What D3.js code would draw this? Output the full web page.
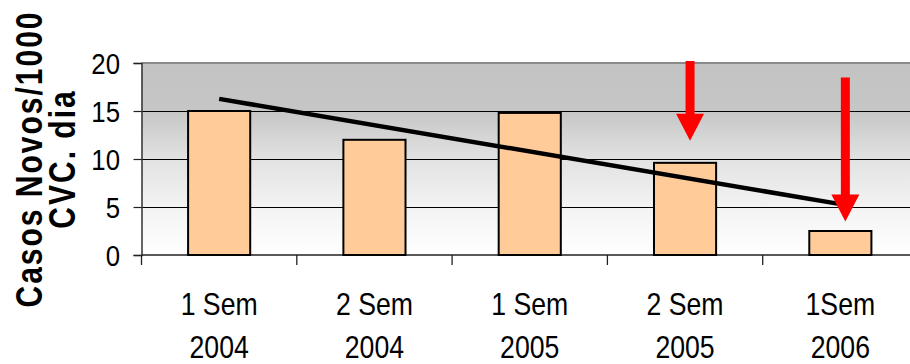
<!DOCTYPE html>
<html>
<head>
<meta charset="utf-8">
<script src="https://cdnjs.cloudflare.com/ajax/libs/d3/7.8.5/d3.min.js"></script>
<style>
  html, body { margin: 0; padding: 0; background: #ffffff; }
  svg { display: block; }
  text { font-family: Arial, "Liberation Sans", sans-serif; fill: #000; }
</style>
</head>
<body>
<svg id="chart" width="910" height="364"></svg>
<script>
// Semester labels (two lines each) and new cases per 1000 CVC-days
const periods = ["1 Sem|2004", "2 Sem|2004", "1 Sem|2005", "2 Sem|2005", "1Sem|2006"];
const cases = [15, 12, 14.8, 9.6, 2.5];
const yTicks = [0, 5, 10, 15, 20];
const yTitle = ["Casos Novos/1000", "CVC. dia"];
// Highlight arrows: category index, start value, tip value
const arrowCats = [3, 4];
const arrowFrom = [20.2, 18.5];
const arrowTo = [11.9, 3.5];

const svg = d3.select("#chart");
const margin = { left: 141.5, top: 63, right: 918, bottom: 255 };

const x = d3.scaleBand().domain(periods).range([margin.left, margin.right]).paddingInner(0).paddingOuter(0);
const y = d3.scaleLinear().domain([0, 20]).range([margin.bottom, margin.top]);

// Plot background gradient (grey at top fading to white)
const defs = svg.append("defs");
const grad = defs.append("linearGradient").attr("id", "bg")
  .attr("x1", 0).attr("y1", 0).attr("x2", 0).attr("y2", 1);
[[0, "#c3c3c3"], [0.25, "#c6c6c6"], [0.5, "#e2e2e2"], [0.75, "#f3f3f3"], [1, "#ffffff"]]
  .forEach(([o, c]) => grad.append("stop").attr("offset", o).attr("stop-color", c));

svg.append("rect")
  .attr("x", margin.left).attr("y", y(20))
  .attr("width", margin.right - margin.left).attr("height", y(0) - y(20))
  .attr("fill", "url(#bg)");

// Horizontal gridlines
svg.append("g").selectAll("line")
  .data(yTicks.filter(d => d > 0 && d < 20))
  .join("line")
  .attr("x1", margin.left).attr("x2", margin.right)
  .attr("y1", d => Math.round(y(d)) + 0.5).attr("y2", d => Math.round(y(d)) + 0.5)
  .attr("stroke", "#000").attr("stroke-width", 1.2);

// Top border
svg.append("line")
  .attr("x1", margin.left).attr("x2", margin.right)
  .attr("y1", y(20)).attr("y2", y(20))
  .attr("stroke", "#8a8a8a").attr("stroke-width", 2);

// Y axis
const yAxis = d3.axisLeft(y).tickValues(yTicks).tickSize(8).tickFormat("");
const ya = svg.append("g").attr("transform", `translate(${margin.left},0)`).call(yAxis);
ya.select(".domain").attr("stroke", "#333").attr("stroke-width", 1.5);
ya.selectAll(".tick line").attr("stroke", "#222").attr("stroke-width", 1.2);

// Y tick labels
svg.append("g").selectAll("text")
  .data(yTicks)
  .join("text")
  .attr("transform", d => `translate(120,${y(d) + 11}) scale(0.86,1)`)
  .attr("text-anchor", "end")
  .attr("font-size", 30)
  .text(d => d);

// X axis baseline and category separators
svg.append("line")
  .attr("x1", margin.left).attr("x2", margin.right)
  .attr("y1", y(0)).attr("y2", y(0))
  .attr("stroke", "#222").attr("stroke-width", 1.5);
const sepPositions = periods.map(p => x(p)).concat([margin.right]);
svg.append("g").selectAll("line")
  .data(sepPositions)
  .join("line")
  .attr("x1", d => d).attr("x2", d => d)
  .attr("y1", y(0)).attr("y2", y(0) + 10)
  .attr("stroke", "#222").attr("stroke-width", 1.3);

// Bars
const barW = x.bandwidth() * 0.4;
svg.append("g").selectAll("rect")
  .data(cases)
  .join("rect")
  .attr("x", (d, i) => x(periods[i]) + (x.bandwidth() - barW) / 2)
  .attr("y", d => y(d))
  .attr("width", barW)
  .attr("height", d => y(0) - y(d))
  .attr("fill", "#ffcc99")
  .attr("stroke", "#000")
  .attr("stroke-width", 2);

// Linear trend line fitted to the series
const n = cases.length;
const idx = d3.range(n);
const mx = d3.mean(idx), my = d3.mean(cases);
const slope = d3.sum(idx, i => (i - mx) * (cases[i] - my)) / d3.sum(idx, i => (i - mx) ** 2);
const intercept = my - slope * mx;
const cx = i => x(periods[i]) + x.bandwidth() / 2;
svg.append("line")
  .attr("x1", cx(0)).attr("y1", y(intercept))
  .attr("x2", cx(n - 1)).attr("y2", y(intercept + slope * (n - 1)))
  .attr("stroke", "#000").attr("stroke-width", 4.5);

// Red arrows
const shaftW = 9, headW = 28, headL = 27;
svg.append("g").selectAll("path")
  .data(arrowCats.map((c, i) => ({ c, from: arrowFrom[i], to: arrowTo[i] })))
  .join("path")
  .attr("d", d => {
    const ax = cx(d.c) + 5;
    const y0 = y(d.from), y1 = y(d.to), yh = y1 - headL;
    return `M${ax - shaftW / 2},${y0} L${ax + shaftW / 2},${y0} L${ax + shaftW / 2},${yh}` +
      ` L${ax + headW / 2},${yh} L${ax},${y1} L${ax - headW / 2},${yh} L${ax - shaftW / 2},${yh} Z`;
  })
  .attr("fill", "#ff0000");

// Category labels (two lines)
const xl = svg.append("g").selectAll("g")
  .data(periods)
  .join("g");
xl.append("text")
  .attr("transform", d => `translate(${x(d) + x.bandwidth() / 2},315) scale(0.86,1)`)
  .attr("text-anchor", "middle").attr("font-size", 31)
  .text(d => d.split("|")[0]);
xl.append("text")
  .attr("transform", d => `translate(${x(d) + x.bandwidth() / 2},358) scale(0.86,1)`)
  .attr("text-anchor", "middle").attr("font-size", 31)
  .text(d => d.split("|")[1]);

// Y axis title
const titleX = [42, 75];
svg.append("g").selectAll("text")
  .data(yTitle)
  .join("text")
  .attr("transform", (d, i) => `translate(${titleX[i]},159) rotate(-90) scale(1,1.2)`)
  .attr("text-anchor", "middle")
  .attr("font-size", 30)
  .attr("font-weight", "bold")
  .attr("letter-spacing", 2)
  .text(d => d);
</script>
</body>
</html>
